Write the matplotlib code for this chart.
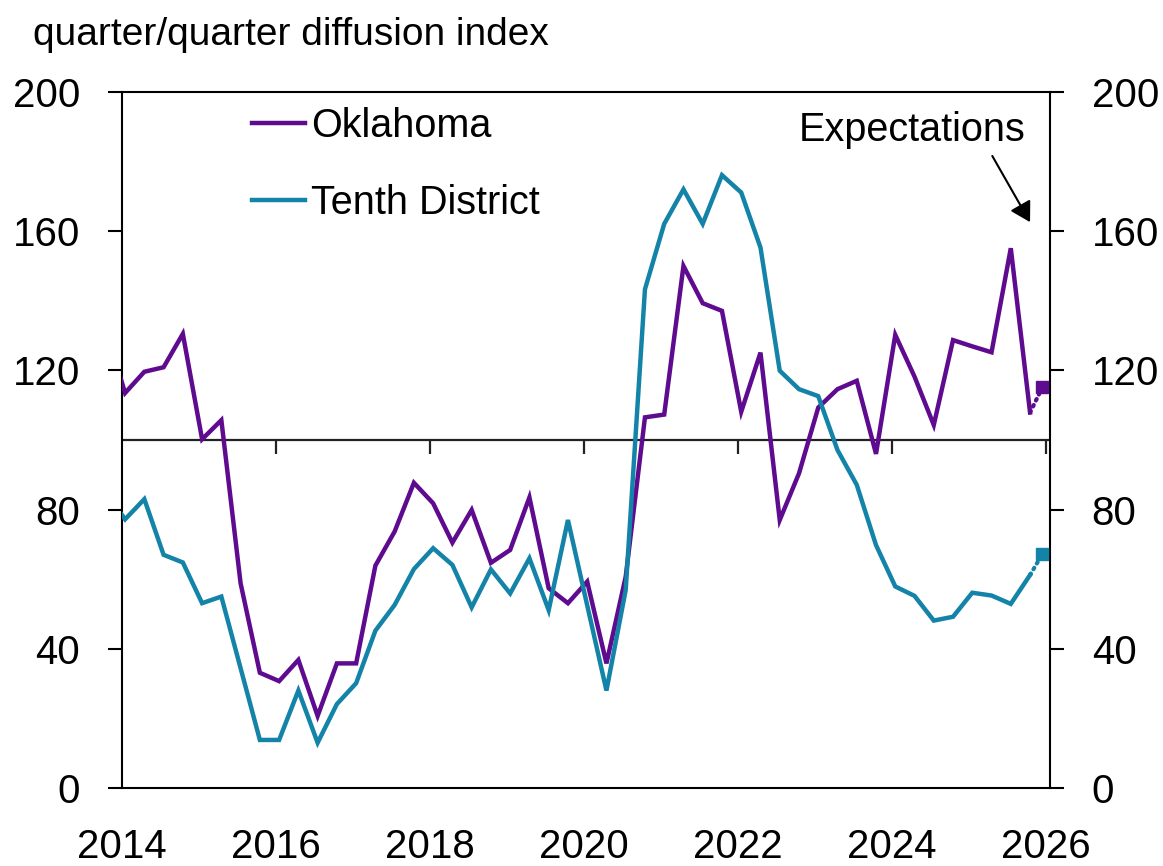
import numpy as np
import pandas as pd
from matplotlib import pyplot as plt

plt.rcParams['font.family'] = ['Liberation Sans Narrow', 'Liberation Sans', 'DejaVu Sans']

# quarterly survey readings, 2013Q4 (clipped at the left edge) to 2025Q4
quarters = pd.period_range('2013Q4', '2025Q4', freq='Q')
oklahoma = [132, 113.5, 119.6, 120.9, 130.5, 100.2, 105.7, 58.8, 33.1, 30.7, 36.8,
            20.7, 35.8, 35.8, 63.9, 73.7, 87.7, 81.8, 70.5, 79.9, 64.7, 68.4,
            83.5, 57.4, 53.1, 59.3, 35.8, 60.7, 106.5, 107.3, 150, 139.3, 137.1,
            108.1, 125.1, 77, 90.4, 109.3, 114.6, 117, 96, 130.2, 118.2, 104.3,
            128.7, 126.9, 125.2, 155.1, 107.9]
tenth = [85, 77.2, 83, 67, 64.8, 53.1, 55, 34.4, 13.8, 13.8, 28, 13, 24.1, 30.1,
         45.2, 52.6, 62.9, 68.9, 64.1, 51.9, 62.8, 55.9, 66, 51.1, 77, 52.5, 28,
         56.9, 143.3, 162.1, 172, 162.1, 176.1, 171.1, 155.3, 119.9, 114.6, 112.6,
         97.1, 87.1, 69.8, 57.9, 55.2, 48.1, 49.2, 56.1, 55.3, 52.9, 61.2]

# expectations for the next quarter
exp_x = 2025.95
exp_ok = 115.1
exp_tenth = 67.2

years = [2014, 2016, 2018, 2020, 2022, 2024, 2026]
yticks = [0, 40, 80, 120, 160, 200]

purple = '#5E0B8F'
teal = '#1483A8'

x = np.array([p.year + (p.quarter - 1) / 4 + 0.04 for p in quarters])

fig = plt.figure(figsize=(11.63, 8.66), dpi=100)
ax = fig.add_axes([0.1049, 0.0901, 0.7980, 0.8037])

ax.plot(x, oklahoma, color=purple, lw=3.2, label='Oklahoma', solid_joinstyle='miter', zorder=3)
ax.plot(x, tenth, color=teal, lw=3.2, label='Tenth District', solid_joinstyle='miter', zorder=3)

# dotted link to the expectation markers
ax.plot([x[-1], exp_x], [oklahoma[-1], exp_ok], color=purple, lw=3, ls=(0, (0.4, 1.2)),
        dash_capstyle='round', zorder=3)
ax.plot([x[-1], exp_x], [tenth[-1], exp_tenth], color=teal, lw=3, ls=(0, (0.4, 1.2)),
        dash_capstyle='round', zorder=3)
ax.plot([exp_x], [exp_ok], marker='s', ms=9, color=purple, zorder=4)
ax.plot([exp_x], [exp_tenth], marker='s', ms=9, color=teal, zorder=4)

ax.axhline(100, color='#222222', lw=1.6, zorder=2)
ax.vlines(years[1:], 96, 100, color='#222222', lw=1.6, zorder=2)

ax.set_xlim(2014, 2026.05)
ax.set_ylim(0, 200)
ax.set_xticks(years)
ax.set_yticks(yticks)
ax.tick_params(axis='x', length=0, pad=29, labelsize=29)
ax.tick_params(axis='y', direction='out', length=10, width=1.5, pad=20, labelsize=29,
               left=True, right=True, labelleft=True, labelright=True)
for s in ax.spines.values():
    s.set_linewidth(1.5)

ax.legend(loc='upper left', bbox_to_anchor=(0.14, 0.979), frameon=False, fontsize=28.5,
          handlelength=1.34, handletextpad=0.15, labelspacing=1.0, borderpad=0,
          borderaxespad=0)

ax.text(2025.73, 189, 'Expectations', fontsize=28.5, ha='right', va='center')
ax.annotate('', xy=(2025.79, 162.6), xytext=(2025.30, 181.6),
            arrowprops=dict(arrowstyle='-|>,head_length=0.6,head_width=0.35', color='black',
                            lw=1.5, shrinkA=0, shrinkB=0, mutation_scale=20))
fig.text(0.028, 1 - 45 / 866, 'quarter/quarter diffusion index', fontsize=28, va='baseline')

plt.savefig('out.png', dpi=100)
